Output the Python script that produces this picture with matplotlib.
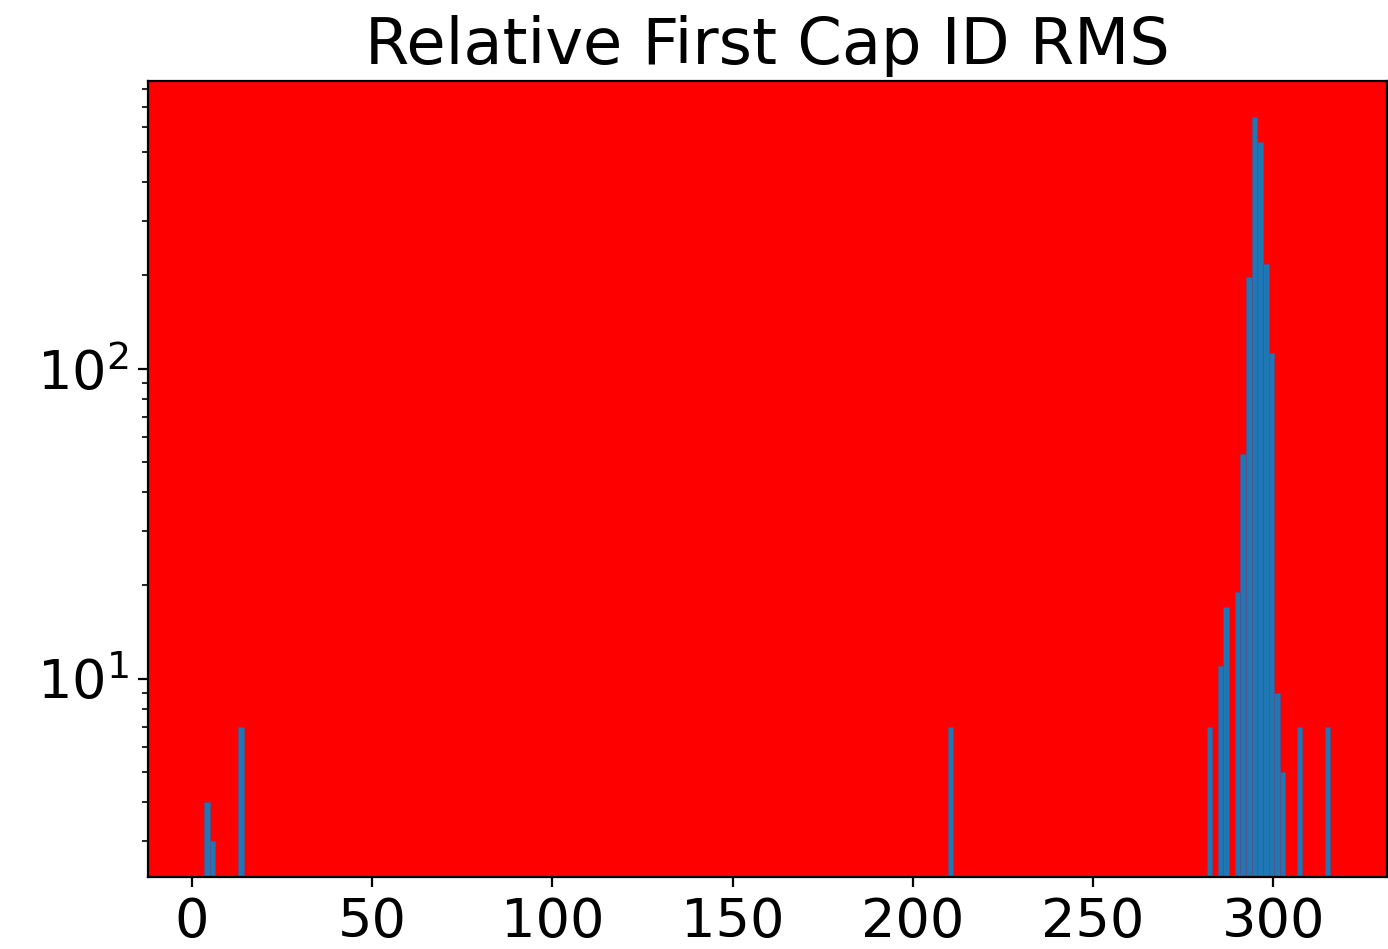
import numpy as np
import matplotlib
matplotlib.use("Agg")
import matplotlib.pyplot as plt

# Histogram description
title = "Relative First Cap ID RMS"
range_lo = 3.4
range_hi = 315.9
n_bins = 200
bin_index = [0, 1, 6, 132, 178, 180, 181, 183, 184, 185, 186, 187, 188, 189, 190, 191, 194, 199]
bin_count = [4, 3, 7, 7, 7, 11, 17, 19, 53, 197, 647, 537, 218, 112, 9, 5, 7, 7]
x_ticks = [0, 50, 100, 150, 200, 250, 300]

edges = np.linspace(range_lo, range_hi, n_bins + 1)
width = edges[1] - edges[0]
centers = [range_lo + (i + 0.5) * width for i in bin_index]

fig = plt.figure(figsize=(6.94, 4.745), dpi=200)
ax = fig.add_axes([0.1066, 0.0759, 0.8927, 0.8387])
ax.set_facecolor("red")
ax.hist(centers, bins=edges, weights=bin_count, log=True, color="#1f77b4",
        edgecolor="#5a4f8a", linewidth=0.25)
ax.set_xlim(-12.2, 331.6)
ax.set_ylim(2.29, 847)
ax.set_xticks(x_ticks)
ax.tick_params(axis="both", which="major", labelsize=19.5)
ax.set_title(title, fontsize=23)
fig.savefig("out.png", dpi=200)
